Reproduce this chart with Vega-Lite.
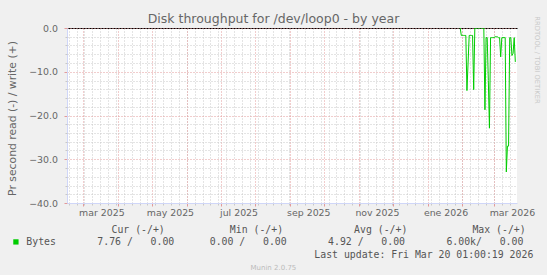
{
  "$schema": "https://vega.github.io/schema/vega-lite/v6.json",
  "width": 450,
  "height": 175,
  "autosize": "none",
  "padding": {"left": 67, "top": 28, "right": 30, "bottom": 72},
  "background": "#f0f0f0",
  "config": {"view": {"fill": "white", "stroke": null}},
  "title": {"text": "Disk throughput for /dev/loop0 - by year", "font": "DejaVu Sans", "fontSize": 12.5, "fontWeight": "normal", "color": "#666666", "anchor": "middle", "frame": "group", "dx": -18.5, "dy": 23, "offset": 3, "baseline": "alphabetic"},
  "data": {"values": [
    {"date": "2026-01-30", "v": 0},
    {"date": "2026-01-31", "v": -1.7},
    {"date": "2026-02-01", "v": -1.7},
    {"date": "2026-02-02", "v": -1.7},
    {"date": "2026-02-03", "v": -1.7},
    {"date": "2026-02-04", "v": -1.7},
    {"date": "2026-02-05", "v": -14.3},
    {"date": "2026-02-06", "v": -8},
    {"date": "2026-02-07", "v": -1.7},
    {"date": "2026-02-08", "v": -1.7},
    {"date": "2026-02-09", "v": -1.7},
    {"date": "2026-02-10", "v": -1.7},
    {"date": "2026-02-11", "v": -14.1},
    {"date": "2026-02-12", "v": 0},
    {"date": "2026-02-13", "v": 0},
    {"date": "2026-02-14", "v": 0},
    {"date": "2026-02-15", "v": 0},
    {"date": "2026-02-16", "v": 0},
    {"date": "2026-02-17", "v": 0},
    {"date": "2026-02-18", "v": 0},
    {"date": "2026-02-19", "v": 0},
    {"date": "2026-02-20", "v": 0},
    {"date": "2026-02-21", "v": -18.7},
    {"date": "2026-02-22", "v": -2.2},
    {"date": "2026-02-23", "v": -2.2},
    {"date": "2026-02-24", "v": -12},
    {"date": "2026-02-25", "v": -22.9},
    {"date": "2026-02-26", "v": -2.2},
    {"date": "2026-02-27", "v": -2.2},
    {"date": "2026-02-28", "v": -2.2},
    {"date": "2026-03-01", "v": -2.2},
    {"date": "2026-03-02", "v": -2.0},
    {"date": "2026-03-03", "v": -2.0},
    {"date": "2026-03-04", "v": -2.0},
    {"date": "2026-03-05", "v": -2.2},
    {"date": "2026-03-06", "v": -2.2},
    {"date": "2026-03-07", "v": -6.6},
    {"date": "2026-03-08", "v": -2.2},
    {"date": "2026-03-09", "v": -2.2},
    {"date": "2026-03-10", "v": -2.2},
    {"date": "2026-03-11", "v": -2.2},
    {"date": "2026-03-12", "v": -32.9},
    {"date": "2026-03-13", "v": -27},
    {"date": "2026-03-14", "v": -27},
    {"date": "2026-03-15", "v": -2.2},
    {"date": "2026-03-16", "v": -2.2},
    {"date": "2026-03-17", "v": -6.3},
    {"date": "2026-03-18", "v": -5.8},
    {"date": "2026-03-19", "v": -2.2},
    {"date": "2026-03-20", "v": -7.76}
  ]},
  "layer": [
    {
      "mark": {"type": "line", "color": "#00cc00", "strokeWidth": 1, "clip": true},
      "encoding": {
        "x": {"field": "date", "type": "temporal",
          "scale": {"type": "utc", "domain": [{"year": 2025, "month": 2, "date": 14, "hours": 12, "utc": true}, {"year": 2026, "month": 3, "date": 21, "hours": 12, "utc": true}]},
          "axis": {"orient": "bottom", "tickCount": {"interval": "week", "step": 1}, "grid": true, "gridColor": "#c8c8c8", "gridDash": [1, 2], "ticks": true, "tickColor": "#c8c8c8", "tickSize": 2, "labels": false, "domain": false,
            "title": "Cur (-/+)\u00a0\u00a0\u00a0\u00a0\u00a0\u00a0\u00a0\u00a0\u00a0\u00a0\u00a0Min (-/+)\u00a0\u00a0\u00a0\u00a0\u00a0\u00a0\u00a0\u00a0\u00a0\u00a0\u00a0\u00a0Avg (-/+)\u00a0\u00a0\u00a0\u00a0\u00a0\u00a0\u00a0\u00a0\u00a0\u00a0\u00a0Max (-/+)",
            "titleFont": "DejaVu Sans Mono", "titleFontSize": 9.83, "titleFontWeight": "normal", "titleColor": "#555555", "titleAlign": "left", "titleBaseline": "alphabetic", "titleX": 44, "titleY": 29}},
        "y": {"field": "v", "type": "quantitative",
          "scale": {"domain": [-40, 0], "nice": false, "zero": false},
          "axis": {"orient": "left", "values": [0], "grid": true, "gridColor": "#000000", "gridWidth": 1, "ticks": false, "labels": false, "domain": false, "title": null}},
        "color": {"datum": "Bytes", "type": "nominal", "scale": {"range": ["#00cc00"]},
          "legend": {"orient": "none", "legendX": -56, "legendY": 209, "title": null, "padding": 0, "symbolType": "square", "symbolSize": 28, "symbolFillColor": "#00cc00", "symbolStrokeColor": "#00cc00", "symbolStrokeWidth": 0, "labelOffset": 5.5, "labelLimit": 0,
            "labelFont": "DejaVu Sans Mono", "labelFontSize": 9.83, "labelColor": "#555555",
            "labelExpr": "'Bytes\u00a0\u00a0\u00a0\u00a0\u00a0\u00a0\u00a07.76 /\u00a0\u00a0\u00a00.00\u00a0\u00a0\u00a0\u00a0\u00a0\u00a00.00 /\u00a0\u00a0\u00a00.00\u00a0\u00a0\u00a0\u00a0\u00a0\u00a0\u00a04.92 /\u00a0\u00a0\u00a00.00\u00a0\u00a0\u00a0\u00a0\u00a0\u00a0\u00a06.00k/\u00a0\u00a0\u00a00.00'"}}
      }
    },
    {
      "mark": {"type": "rule", "opacity": 0},
      "encoding": {
        "x": {"datum": {"year": 2025, "month": 2, "date": 14, "hours": 12, "utc": true}, "type": "temporal",
          "axis": {"orient": "bottom", "tickCount": {"interval": "month", "step": 1}, "grid": true, "gridColor": "#e29a9a", "gridDash": [1, 2], "ticks": true, "tickColor": "#e29a9a", "tickSize": 3, "labels": false, "domain": false,
            "title": "Last update: Fri Mar 20 01:00:19 2026",
            "titleFont": "DejaVu Sans Mono", "titleFontSize": 9.83, "titleFontWeight": "normal", "titleColor": "#555555", "titleAlign": "right", "titleBaseline": "alphabetic", "titleX": 465.8, "titleY": 54.3}},
        "y": {"datum": 0, "type": "quantitative",
          "axis": {"orient": "left", "values": [-40, -30, -20, -10, 0], "format": ".1f", "grid": true, "gridColor": "#e29a9a", "gridDash": [1, 2], "ticks": true, "tickColor": "#e29a9a", "tickSize": 3, "domain": true, "domainColor": "#cfd6f8",
            "labelFont": "DejaVu Sans", "labelFontSize": 9.4, "labelColor": "#666666", "labelPadding": 6.5,
            "title": "Pr second read (-) / write (+)", "titleFont": "DejaVu Sans", "titleFontSize": 10.8, "titleFontWeight": "normal", "titleColor": "#666666", "titleAngle": 270, "titleAlign": "center", "titleBaseline": "alphabetic", "titleX": -52, "titleY": 90}}
      }
    },
    {
      "mark": {"type": "rule", "opacity": 0},
      "encoding": {
        "x": {"datum": {"year": 2025, "month": 2, "date": 14, "hours": 12, "utc": true}, "type": "temporal",
          "axis": {"orient": "bottom", "values": [{"year": 2025, "month": 3, "date": 17, "utc": true}, {"year": 2025, "month": 5, "date": 17, "utc": true}, {"year": 2025, "month": 7, "date": 17, "utc": true}, {"year": 2025, "month": 9, "date": 17, "utc": true}, {"year": 2025, "month": 11, "date": 17, "utc": true}, {"year": 2026, "month": 1, "date": 17, "utc": true}, {"year": 2026, "month": 3, "date": 17, "utc": true}],
            "labelExpr": "['ene','feb','mar','abr','may','jun','jul','ago','sep','oct','nov','dic'][utcmonth(datum.value)] + ' ' + utcyear(datum.value)",
            "grid": false, "ticks": false, "tickSize": 0, "domain": true, "domainColor": "#cfd6f8", "labelFont": "DejaVu Sans", "labelFontSize": 9.4, "labelColor": "#666666", "labelBaseline": "alphabetic", "labelPadding": 12.4, "labelFlush": false, "labelOverlap": false,
            "title": "Munin 2.0.75", "titleFont": "DejaVu Sans", "titleFontSize": 7, "titleFontWeight": "normal", "titleColor": "#bbbbbb", "titleAlign": "center", "titleBaseline": "alphabetic", "titleX": 205.9, "titleY": 66.5}},
        "y": {"datum": -40, "type": "quantitative",
          "axis": {"orient": "left", "values": [-38, -36, -34, -32, -28, -26, -24, -22, -18, -16, -14, -12, -8, -6, -4, -2], "grid": true, "gridColor": "#c8c8c8", "gridDash": [1, 2], "ticks": true, "tickColor": "#c8c8c8", "tickSize": 2, "labels": false, "domain": false, "title": null}}
      }
    },
    {
      "mark": {"type": "rule", "opacity": 0},
      "encoding": {
        "x": {"datum": {"year": 2025, "month": 2, "date": 14, "hours": 12, "utc": true}, "type": "temporal", "axis": null},
        "y": {"datum": -40, "type": "quantitative",
          "axis": {"orient": "right", "labels": false, "ticks": false, "grid": false, "domain": false,
            "title": "RRDTOOL / TOBI OETIKER", "titleFont": "DejaVu Sans", "titleFontSize": 6.8, "titleFontWeight": "normal", "titleColor": "#c8c8c8", "titleAngle": 90, "titleAlign": "left", "titleBaseline": "alphabetic", "titleX": 17.3, "titleY": -12.3}}
      }
    }
  ],
  "resolve": {"axis": {"x": "independent", "y": "independent"}}
}
